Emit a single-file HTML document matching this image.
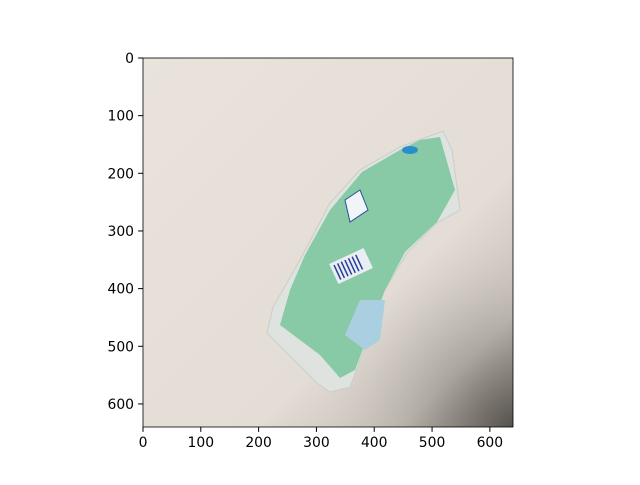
<!DOCTYPE html>
<html><head><meta charset="utf-8"><style>
body{margin:0;background:#fff;}
svg text{font-family:"DejaVu Sans","Liberation Sans",sans-serif;font-size:13.9px;fill:#000}
</style></head><body>
<svg id="c" width="640" height="480">
<defs>
<linearGradient id="bg" x1="0" y1="0" x2="1" y2="1">
<stop offset="0" stop-color="#e9e3dc"/><stop offset="0.65" stop-color="#e3ddd5"/><stop offset="0.85" stop-color="#c4beb6"/><stop offset="1" stop-color="#6a655f"/>
</linearGradient>
<radialGradient id="sh" cx="1" cy="1" r="0.55">
<stop offset="0" stop-color="#4d4944" stop-opacity="0.7"/><stop offset="1" stop-color="#e4ded7" stop-opacity="0"/>
</radialGradient>
</defs>
<g>
<rect x="143" y="58" width="370" height="369" fill="url(#bg)"/>
<rect x="143" y="58" width="370" height="369" fill="url(#sh)"/>
<polygon points="427,137 443,131 452,150 457,187 460,210 437,223 407,253 383,293 373,327 360,360 350,387 330,392 317,383 267,333 273,307 300,260 330,203 360,170 400,147" fill="#dfe3e0" stroke="#c9ceca"/>
<polygon points="420,140 440,137 455,190 437,222 405,252 385,290 372,325 355,370 340,378 320,355 280,325 290,290 305,255 330,210 362,172 400,150" fill="#88c9a6"/>
<polygon points="360,300 385,300 380,340 365,350 345,335" fill="#a9cfe0"/>
<rect x="332" y="255" width="38" height="22" fill="#e9eef3" transform="rotate(-25 351 266)"/>
<g transform="rotate(-25 351 266)" stroke="#2a3f9a" stroke-width="1.5">
<line x1="336" y1="258" x2="336" y2="274"/><line x1="340" y1="258" x2="340" y2="274"/><line x1="344" y1="258" x2="344" y2="274"/><line x1="348" y1="258" x2="348" y2="274"/><line x1="352" y1="258" x2="352" y2="274"/><line x1="356" y1="258" x2="356" y2="274"/><line x1="360" y1="258" x2="360" y2="274"/></g>
<ellipse cx="410" cy="150" rx="8" ry="4" fill="#2a8ecb"/>
<path d="M345 200 L360 190 L368 210 L350 222 Z" fill="#f2f5f7" stroke="#2a4fa0"/>
</g>
<rect x="143" y="58" width="370" height="369" fill="none" stroke="#000" stroke-width="0.8"/>
<g id="xt"></g>
<g id="yt"></g>
</svg>
<script>
const xTicks=[0,100,200,300,400,500,600];
const yTicks=[0,100,200,300,400,500,600];
const imgW=640,imgH=640;
const x0=143,x1=513,y0=58,y1=427;
const sx=v=>x0+(v+0.5)*(x1-x0)/imgW-0.3;
const sy=v=>y0+(v+0.5)*(y1-y0)/imgH-0.3;
const ns="http://www.w3.org/2000/svg";
const xt=document.getElementById('xt'),yt=document.getElementById('yt');
xTicks.forEach(t=>{const x=sx(t);
const l=document.createElementNS(ns,'line');l.setAttribute('x1',x);l.setAttribute('x2',x);l.setAttribute('y1',y1);l.setAttribute('y2',y1+4.9);l.setAttribute('stroke','#000');


xt.appendChild(l);
const s=document.createElementNS(ns,'text');s.setAttribute('x',x);s.setAttribute('y',y1+20);s.setAttribute('text-anchor','middle');s.textContent=t;


xt.appendChild(s);});
yTicks.forEach(t=>{const y=sy(t);
const l=document.createElementNS(ns,'line');l.setAttribute('x1',x0-4.9);l.setAttribute('x2',x0);l.setAttribute('y1',y);l.setAttribute('y2',y);l.setAttribute('stroke','#000');


yt.appendChild(l);
const s=document.createElementNS(ns,'text');s.setAttribute('x',x0-9);s.setAttribute('y',y+5);s.setAttribute('text-anchor','end');s.textContent=t;


yt.appendChild(s);});
</script>
</body></html>
